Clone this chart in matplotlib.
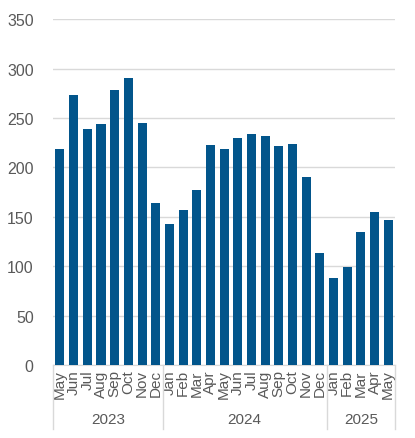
import matplotlib.pyplot as plt
import numpy as np

plt.rcParams['font.family'] = ['Liberation Sans', 'DejaVu Sans']

months = ['May', 'Jun', 'Jul', 'Aug', 'Sep', 'Oct', 'Nov', 'Dec',
          'Jan', 'Feb', 'Mar', 'Apr', 'May', 'Jun', 'Jul', 'Aug', 'Sep', 'Oct', 'Nov', 'Dec',
          'Jan', 'Feb', 'Mar', 'Apr', 'May']
values = [219, 273, 239, 244, 278, 291, 245, 164,
          143, 157, 177, 223, 219, 230, 234, 232, 222, 224, 190, 113,
          88, 99, 135, 155, 147]
years = ['2023', '2024', '2025']
year_counts = [8, 12, 5]

bar_color = '#02558b'
text_color = '#595959'
grid_color = '#d9d9d9'

fig = plt.figure(figsize=(4.15, 4.39), dpi=100)
ax = fig.add_axes([0.128, 0.166, 0.824, 0.788])

x = np.arange(len(values))
ax.bar(x, values, width=0.66, color=bar_color, zorder=3)

ax.set_xlim(-0.5, len(values) - 0.5)
ax.set_ylim(0, 350)
ax.set_yticks(range(0, 351, 50))
ax.yaxis.grid(True, color=grid_color, linewidth=1, zorder=0)
ax.tick_params(axis='y', length=0, labelsize=11.5, labelcolor=text_color, pad=14)

ax.set_xticks(x)
ax.set_xticklabels(months, rotation=90, fontsize=11, color=text_color)
ax.tick_params(axis='x', length=0, pad=3)

for side in ['top', 'right', 'left']:
    ax.spines[side].set_visible(False)
ax.spines['bottom'].set_color(grid_color)

# year group separators and labels
bounds = np.concatenate([[0], np.cumsum(year_counts)]) - 0.5
for b in bounds:
    ax.plot([b, b], [0, -0.185], transform=ax.get_xaxis_transform(),
            color=grid_color, linewidth=1, clip_on=False)
for i, yr in enumerate(years):
    mid = (bounds[i] + bounds[i + 1]) / 2
    ax.text(mid, -0.155, yr, transform=ax.get_xaxis_transform(),
            ha='center', va='center', fontsize=11, color=text_color)

fig.savefig('out.png', dpi=100)
